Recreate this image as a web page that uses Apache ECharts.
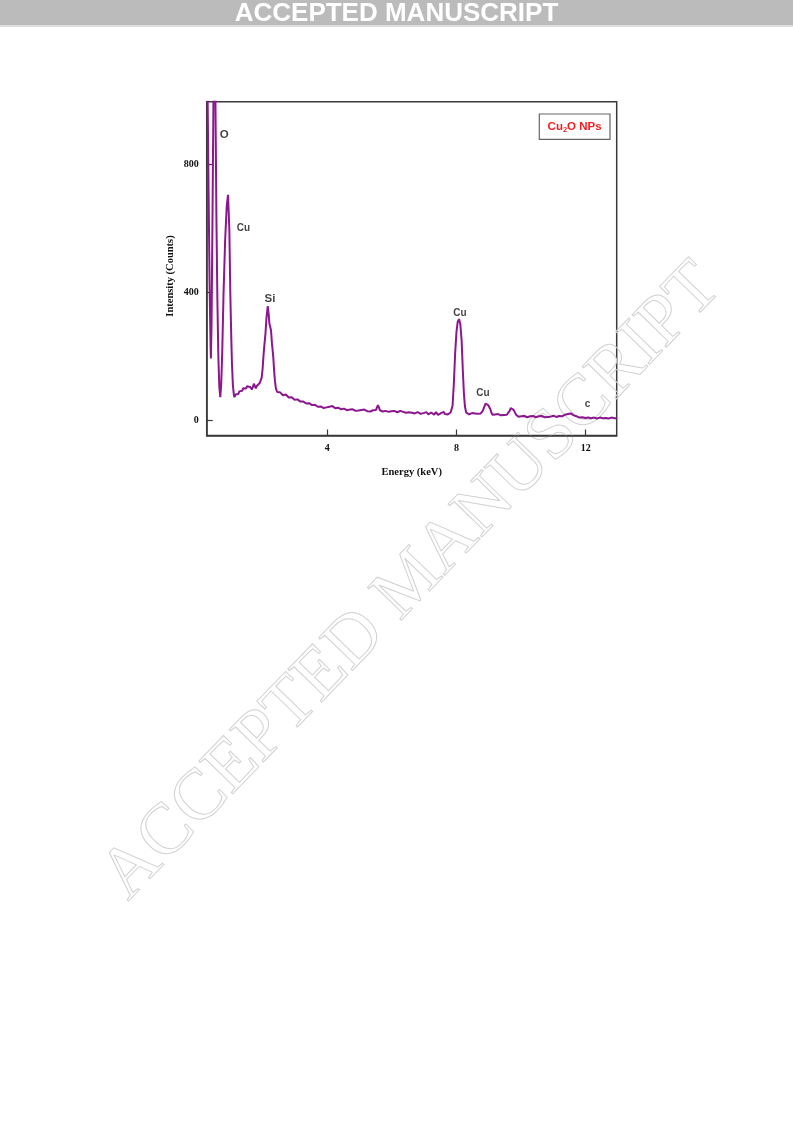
<!DOCTYPE html>
<html><head><meta charset="utf-8">
<script src="https://cdn.jsdelivr.net/npm/echarts@6/dist/echarts.min.js"></script>
<style>html,body{margin:0;padding:0;background:#fff}#c{width:793px;height:1121px}</style>
</head><body><div id="c"></div>
<script>
// EDS spectrum values: [energy keV, counts]
const lowEnergyPeaks = [
 [0.27,1250],[0.30,990],[0.33,700],[0.36,420],[0.39,230],[0.40,193],[0.42,300],[0.45,640],[0.48,1020],
 [0.51,1350],[0.54,1000],[0.57,640],[0.60,380],[0.63,200],[0.66,105],[0.69,72],[0.72,115],[0.75,210],
 [0.79,391],[0.84,560],[0.89,670],[0.93,705],[0.97,600],[1.00,400],[1.03,260],[1.05,182],[1.08,110],
 [1.11,80],[1.13,72]
];
const siliconRegion = [
 [1.16,80],[1.19,76],[1.22,84],[1.25,82],[1.28,90],[1.31,86],[1.34,95],[1.37,92],[1.40,100],[1.43,97],
 [1.46,103],[1.49,99],[1.52,106],[1.55,101],[1.58,108],[1.61,104],[1.64,110],[1.67,96],[1.70,104],
 [1.73,114],[1.76,116],[1.79,99],[1.82,107],[1.85,112],[1.88,104],[1.91,116],[1.94,120],[1.97,132],
 [2.00,160],[2.03,205],[2.06,240],[2.09,272],[2.12,320],[2.16,357],[2.19,330],[2.21,302],[2.24,290],
 [2.26,281],[2.29,240],[2.33,198],[2.36,150],[2.38,125],[2.41,100],[2.45,88]
];
const background = [
 [2.48,90],[2.51,84],[2.54,87],[2.57,81],[2.60,84],[2.63,78],[2.66,82],[2.69,76],[2.72,80],[2.75,74],
 [2.78,77],[2.81,71],[2.84,74],[2.87,69],[2.90,72],[2.93,67],[2.96,70],[2.99,64],[3.02,67],[3.05,62],
 [3.08,65],[3.11,60],[3.14,63],[3.17,58],[3.20,60],[3.23,55],[3.26,58],[3.29,54],[3.32,57],[3.35,52],
 [3.38,55],[3.41,50],[3.44,53],[3.47,49],[3.50,52],[3.53,47],[3.56,50],[3.59,45],[3.62,48],[3.65,44],
 [3.68,46],[3.71,42],[3.74,45],[3.77,40],[3.80,43],[3.83,39],[3.86,42],[3.89,38],[3.92,41],[3.95,37],
 [3.98,40],[4.01,36],[4.04,39],[4.07,42],[4.10,38],[4.13,41],[4.16,44],[4.19,39],[4.22,42],[4.25,37],
 [4.28,40],[4.31,36],[4.34,39],[4.37,35],[4.40,38],[4.43,34],[4.46,37],[4.49,33],[4.52,36],[4.55,32],
 [4.58,35],[4.61,31],[4.64,34],[4.67,30],[4.70,33],[4.73,35],[4.76,31],[4.79,34],[4.82,30],[4.85,33],
 [4.88,29],[4.91,32],[4.94,34],[4.97,30],[5.00,33],[5.03,29],[5.06,32],[5.09,28],[5.12,31],[5.15,33],
 [5.18,29],[5.21,32],[5.24,28],[5.27,31],[5.30,30],[5.33,27],[5.36,30],[5.39,28],[5.42,31],[5.45,27],
 [5.48,30],[5.51,32],[5.54,38],[5.57,47],[5.60,40],[5.63,31],[5.66,28],[5.69,31],[5.72,27],[5.75,30],
 [5.78,26],[5.81,29],[5.84,27],[5.87,30],[5.90,26],[5.93,29],[5.96,25],[5.99,28],[6.02,31],[6.05,27],
 [6.08,29],[6.11,25],[6.14,28],[6.17,24],[6.20,27],[6.23,25],[6.26,29],[6.29,26],[6.32,23],[6.35,26],
 [6.38,24],[6.41,27],[6.44,23],[6.47,26],[6.50,29],[6.53,25],[6.56,22],[6.59,25],[6.62,23],[6.65,27],
 [6.68,24],[6.71,21],[6.74,24],[6.77,22],[6.80,25],[6.83,21],[6.86,24],[6.89,20],[6.92,23],[6.95,26],
 [6.98,22],[7.01,19],[7.04,22],[7.07,25],[7.10,21],[7.13,18],[7.16,22],[7.19,20],[7.22,24],[7.25,19],
 [7.28,22],[7.31,17],[7.34,21],[7.37,25],[7.40,20],[7.43,16],[7.46,21],[7.49,18],[7.52,22],[7.55,17],
 [7.58,20],[7.61,26],[7.64,19],[7.67,16],[7.70,22],[7.73,18],[7.76,23],[7.79,19],[7.82,24]
];
const copperKRegion = [
 [7.85,28],[7.88,45],[7.92,115],[7.96,210],[8.00,275],[8.04,308],[8.08,316],[8.12,300],[8.16,250],
 [8.20,150],[8.23,85],[8.26,45],[8.30,24],[8.33,20],[8.36,22],[8.39,18],[8.42,21],[8.45,19],[8.48,22],
 [8.51,20],[8.54,18],[8.57,21],[8.60,19],[8.63,22],[8.66,20],[8.69,23],[8.72,19],[8.75,21],[8.78,24],
 [8.81,28],[8.84,36],[8.87,44],[8.90,52],[8.93,57],[8.96,52],[8.99,46],[9.02,44],[9.05,34],[9.08,24],
 [9.11,17],[9.14,19],[9.17,16],[9.20,18],[9.23,15],[9.26,17],[9.29,19],[9.32,16],[9.35,18],[9.38,15],
 [9.41,17],[9.44,19],[9.47,16],[9.50,18],[9.53,15],[9.56,17],[9.59,19],[9.62,22],[9.65,30],[9.68,38],
 [9.71,41],[9.74,36],[9.77,32],[9.80,27],[9.84,18],[9.88,13],[9.92,11]
];
const highEnergyTail = [
 [9.95,12],[9.98,10],[10.01,12],[10.04,9],[10.07,11],[10.10,13],[10.13,10],[10.16,12],[10.19,9],
 [10.22,11],[10.25,10],[10.28,12],[10.31,9],[10.34,11],[10.37,13],[10.40,10],[10.43,12],[10.46,9],
 [10.49,11],[10.52,10],[10.55,12],[10.58,9],[10.61,11],[10.64,13],[10.67,10],[10.70,12],[10.73,9],
 [10.76,11],[10.79,13],[10.82,10],[10.85,12],[10.88,9],[10.91,11],[10.94,10],[10.97,12],[11.00,14],
 [11.03,11],[11.06,13],[11.09,10],[11.12,12],[11.15,11],[11.18,13],[11.21,11],[11.24,14],[11.27,12],
 [11.30,15],[11.33,14],[11.36,17],[11.39,18],[11.42,20],[11.45,19],[11.48,21],[11.51,20],[11.54,21],
 [11.57,18],[11.60,16],[11.63,15],[11.66,13],[11.69,11],[11.72,12],[11.75,9],[11.78,11],[11.81,8],
 [11.84,10],[11.87,7],[11.90,9],[11.93,8],[11.96,10],[11.99,7],[12.02,9],[12.05,6],[12.08,8],[12.11,7],
 [12.14,9],[12.17,6],[12.20,12],[12.23,7],[12.26,8],[12.29,6],[12.32,8],[12.35,5],[12.38,7],[12.41,6],
 [12.44,8],[12.47,5],[12.50,7],[12.53,6],[12.56,8],[12.59,5],[12.62,7],[12.65,6],[12.68,8],[12.71,5],
 [12.74,7],[12.77,6],[12.80,8],[12.83,5],[12.86,7],[12.89,6],[12.92,8],[12.96,6]
];
const peakLabelNames = ['O', 'Cu', 'Si', 'Cu', 'Cu', 'c'];
const peakLabelPositions = [[0.81, 891], [1.41, 601], [2.23, 381], [8.11, 334], [8.82, 85], [12.06, 50]];
const xTickValues = [4, 8, 12];
const yTickValues = [0, 400, 800];
const xAxisTitle = 'Energy (keV)';
const yAxisTitle = 'Intensity (Counts)';
const bannerText = 'ACCEPTED MANUSCRIPT';

const spectrum = [].concat(lowEnergyPeaks, siliconRegion, background, copperKRegion, highEnergyTail);
const labelSizes = {O: 11.5, Si: 11.5, Cu: 10, c: 10};

const chart = echarts.init(document.getElementById('c'), null, {renderer: 'canvas'});
const serifBold = {fontFamily: '"Liberation Serif", "Times New Roman", serif', fontWeight: 'bold', color: '#111', fontSize: 10};

chart.setOption({
  animation: false,
  backgroundColor: '#fff',
  grid: {left: 206.7, right: 176.3, top: 101.7, bottom: 685.5, show: true, borderColor: '#3a3a3a', borderWidth: 1.5, backgroundColor: 'transparent'},
  xAxis: {
    type: 'value', min: 0.27, max: 12.96,
    axisLine: {onZero: false, lineStyle: {color: '#3a3a3a', width: 1.5}},
    axisTick: {inside: true, length: 6, customValues: xTickValues, lineStyle: {color: '#3a3a3a', width: 1.2}},
    axisLabel: Object.assign({customValues: xTickValues, margin: 8}, serifBold),
    splitLine: {show: false},
    name: xAxisTitle, nameLocation: 'middle', nameGap: 31,
    nameTextStyle: Object.assign({}, serifBold, {fontSize: 10.5})
  },
  yAxis: {
    type: 'value', min: -48, max: 996,
    axisLine: {onZero: false, lineStyle: {color: '#3a3a3a', width: 1.5}},
    axisTick: {inside: true, length: 6, customValues: yTickValues, lineStyle: {color: '#3a3a3a', width: 1.2}},
    axisLabel: Object.assign({customValues: yTickValues, margin: 8}, serifBold),
    splitLine: {show: false}
  },
  graphic: [
    {type: 'rect', left: 0, top: 0, shape: {width: 793, height: 25}, style: {fill: '#bbbbbb'}, z: 0},
    {type: 'rect', left: 0, top: 25, shape: {width: 793, height: 2}, style: {fill: '#dedede'}, z: 0},
    {type: 'text', x: 396.5, y: 14, style: {text: bannerText, fill: '#fff', font: 'bold 26px "Liberation Sans", Arial, sans-serif', textAlign: 'center', textVerticalAlign: 'middle'}, z: 1},
    {type: 'text', x: 412, y: 582, rotation: 0.80, style: {text: bannerText, fill: 'transparent', stroke: '#d2d2d2', lineWidth: 1, font: '72px "Liberation Serif", "Times New Roman", serif', textAlign: 'center', textVerticalAlign: 'middle'}, z: 0},
    {type: 'text', x: 170, y: 276, rotation: Math.PI / 2, style: {text: yAxisTitle, fill: '#111', font: 'bold 10.5px "Liberation Serif", "Times New Roman", serif', textAlign: 'center', textVerticalAlign: 'middle'}, z: 5},
    {type: 'rect', x: 539.3, y: 114, shape: {width: 70.7, height: 25.3}, style: {fill: '#fff', stroke: '#666', lineWidth: 1.2}, z: 10},
    {type: 'text', x: 574.6, y: 126.6, z: 11, style: {
      text: '{a|Cu}{s|2}{a|O NPs}', textAlign: 'center', textVerticalAlign: 'middle',
      rich: {
        a: {fill: '#f01e23', font: 'bold 11.5px "Liberation Sans", Arial, sans-serif', lineHeight: 14},
        s: {fill: '#f01e23', font: 'bold 7.5px "Liberation Sans", Arial, sans-serif', lineHeight: 14, padding: [7, 0, 0, 0]}
      }
    }}
  ],
  series: [
    {
      type: 'line', data: spectrum, showSymbol: false, symbol: 'none', clip: true,
      lineStyle: {color: '#8b168d', width: 2}, z: 3
    },
    {
      type: 'scatter', symbolSize: 0, z: 4,
      data: peakLabelPositions.map((p, i) => ({
        value: p,
        label: {show: true, position: 'inside', formatter: peakLabelNames[i],
          fontFamily: '"Liberation Sans", Arial, sans-serif', fontWeight: 'bold', color: '#111',
          fontSize: labelSizes[peakLabelNames[i]]}
      }))
    }
  ]
});
</script></body></html>
